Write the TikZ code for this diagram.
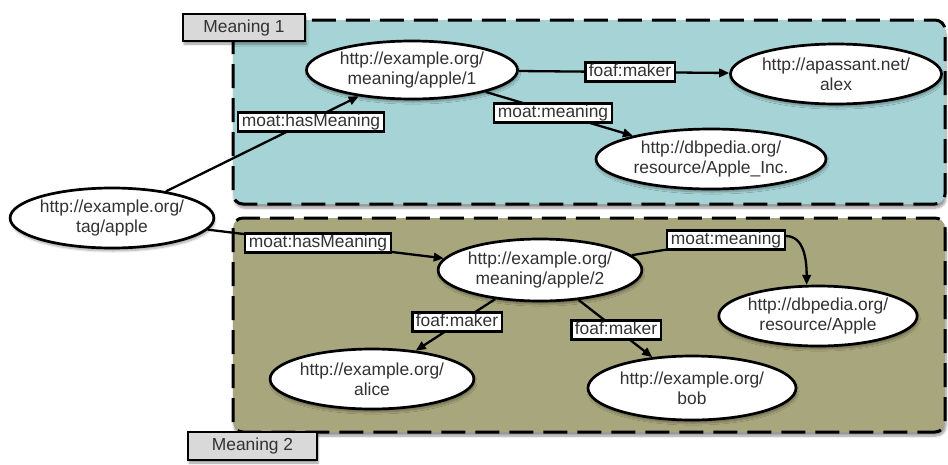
\documentclass[tikz,border=0pt]{standalone}
\usepackage{fontspec}
\setmainfont{Liberation Sans}
\usetikzlibrary{shapes.geometric,arrows.meta,shadows.blur}

\definecolor{boxteal}{RGB}{166,211,213}
\definecolor{boxolive}{RGB}{168,166,124}
\definecolor{tabgray}{RGB}{217,217,217}
\definecolor{inkgray}{RGB}{50,50,50}

\pgfdeclarelayer{back}
\pgfdeclarelayer{mid}
\pgfsetlayers{back,mid,main}

\tikzset{
  txt/.style={font=\fontsize{17.4}{20}\selectfont, text=inkgray},
  res/.style={ellipse, draw=black, line width=2.7pt, fill=white, inner sep=0pt,
    align=center, txt,
    blur shadow={shadow xshift=1pt, shadow yshift=-3pt, shadow blur steps=6, shadow opacity=35}},
  prop/.style={rectangle, draw=black, line width=2.2pt, fill=white, inner xsep=3.5pt,
    inner ysep=1.5pt, text height=12.5pt, text depth=3.5pt, txt},
  group/.style={draw=black, line width=3pt, dash pattern=on 24pt off 10pt,
    rounded corners=10pt,
    blur shadow={shadow xshift=1pt, shadow yshift=-4pt, shadow blur steps=8, shadow opacity=40}},
  tab/.style={rectangle, draw=black, line width=2.5pt, fill=tabgray, inner sep=0pt, txt,
    blur shadow={shadow xshift=1pt, shadow yshift=-3pt, shadow blur steps=6, shadow opacity=40}},
  rel/.style={draw=black, line width=2.3pt, -{Triangle[length=10pt,width=8.5pt]}},
  plain/.style={draw=black, line width=2.3pt},
}

\begin{document}
\begin{tikzpicture}[x=1pt,y=-1pt]
\useasboundingbox (0,0) rectangle (948,464);

% resources
\node[res, minimum width=201pt, minimum height=60pt] (tag)   at (112,218) {http://example.org/\\tag/apple};
\node[res, minimum width=211pt, minimum height=58pt] (m1)    at (412,70)  {http://example.org/\\meaning/apple/1};
\node[res, minimum width=211pt, minimum height=60pt] (alex)  at (836,74)  {http://apassant.net/\\alex};
\node[res, minimum width=230pt, minimum height=60pt] (inc)   at (711,159) {http://dbpedia.org/\\resource/Apple\_Inc.};
\node[res, minimum width=194pt, minimum height=62pt] (m2)    at (540,270) {http://example.org/\\meaning/apple/2};
\node[res, minimum width=188pt, minimum height=60pt] (apple) at (818,316) {http://dbpedia.org/\\resource/Apple};
\node[res, minimum width=198pt, minimum height=60pt] (alice) at (372,379) {http://example.org/\\alice};
\node[res, minimum width=208pt, minimum height=64pt] (bob)   at (692,388) {http://example.org/\\bob};

% property labels
\node[prop] (l1) at (311,122) {moat:hasMeaning};
\node[prop] (l2) at (318,243) {moat:hasMeaning};
\node[prop] (l3) at (630,72)  {foaf:maker};
\node[prop] (l4) at (553,113) {moat:meaning};
\node[prop] (l5) at (726,240) {moat:meaning};
\node[prop] (l6) at (457,322) {foaf:maker};
\node[prop] (l7) at (616,330) {foaf:maker};

% named graphs
\begin{pgfonlayer}{back}
  \draw[group, fill=boxteal]  (233,20)  rectangle (945,204);
  \draw[group, fill=boxolive] (233,218) rectangle (945,432);
  \node[tab, minimum width=122pt, minimum height=27pt] (g1) at (244,27.5) {Meaning 1};
  \node[tab, minimum width=129pt, minimum height=28pt] (g2) at (252.5,446) {Meaning 2};
\end{pgfonlayer}

% statements
\begin{pgfonlayer}{mid}
  \draw[rel] (tag) -- (m1);
  \draw[rel] (tag) -- (m2);
  \draw[rel] (m1) -- (alex);
  \draw[rel] (m1) -- (inc);
  \draw[plain] (m2) -- (l5);
  \draw[rel] ([yshift=4pt]l5.east) .. controls +(18,0) and +(0,-26) .. (apple.110);
  \draw[rel] (m2) -- (alice);
  \draw[rel] (m2) -- (bob);
\end{pgfonlayer}
\end{tikzpicture}
\end{document}
